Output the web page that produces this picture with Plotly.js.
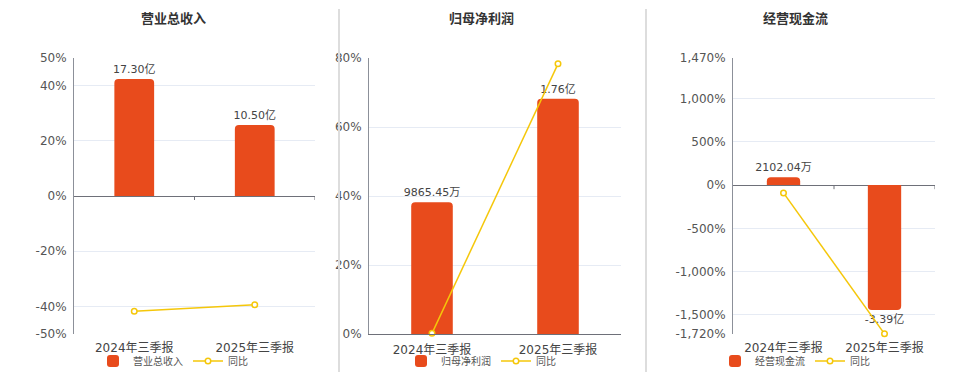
<!DOCTYPE html>
<html>
<head>
<meta charset="utf-8">
<script src="https://cdn.plot.ly/plotly-3.0.1.min.js"></script>
<style>
html,body{margin:0;padding:0;background:#fff;}
#chart{width:960px;height:372px;}
</style>
</head>
<body>
<div id="chart"></div>
<script>
// ---- data ----
const categories = ['2024年三季报', '2025年三季报'];

const revenue = [17.30, 10.50];              // 亿
const revenueLabels = ['17.30亿', '10.50亿'];
const revenueYoY = [-41.8, -39.4];           // %

const profit = [0.986545, 1.76];             // 亿
const profitLabels = ['9865.45万', '1.76亿'];
const profitYoY = [0.2, 78.3];

const cashflow = [0.210204, -3.39];          // 亿
const cashflowLabels = ['2102.04万', '-3.39亿'];
const cashflowYoY = [-89, -1718];

const titles = ['营业总收入', '归母净利润', '经营现金流'];
const yoyName = '同比';

const pctTicks1 = [-50, -40, -20, 0, 20, 40, 50];
const pctText1 = ['-50%', '-40%', '-20%', '0%', '20%', '40%', '50%'];
const pctTicks2 = [0, 20, 40, 60, 80];
const pctText2 = ['0%', '20%', '40%', '60%', '80%'];
const pctTicks3 = [-1720, -1500, -1000, -500, 0, 500, 1000, 1470];
const pctText3 = ['-1,720%', '-1,500%', '-1,000%', '-500%', '0%', '500%', '1,000%', '1,470%'];

// ---- styling ----
const BAR = '#E84B1C';
const LINE = '#F5C70A';
const FONT = '"DejaVu Sans", "Noto Sans CJK SC", sans-serif';
const W = 960, H = 372;
const yDom = [1 - 334 / H, 1 - 58 / H];

const panels = [
  { bars: revenue, labels: revenueLabels, yoy: revenueYoY, ticks: pctTicks1, ttext: pctText1,
    pctRange: [-50, 50], barRange: [-20.41, 20.41], xdom: [74, 315], center: 173, bottomLine: false },
  { bars: profit, labels: profitLabels, yoy: profitYoY, ticks: pctTicks2, ttext: pctText2,
    pctRange: [0, 80], barRange: [0, 2.065], xdom: [369, 621], center: 481, bottomLine: true },
  { bars: cashflow, labels: cashflowLabels, yoy: cashflowYoY, ticks: pctTicks3, ttext: pctText3,
    pctRange: [-1720, 1470], barRange: [-4.04, 3.44], xdom: [733, 935], center: 795, bottomLine: false }
];

const data = [];
const layout = {
  width: W, height: H, autosize: false,
  margin: { l: 0, r: 0, t: 0, b: 0, autoexpand: false },
  paper_bgcolor: '#fff', plot_bgcolor: 'rgba(0,0,0,0)',
  font: { family: FONT, color: '#444', size: 12 },
  showlegend: true,
  hovermode: false,
  annotations: [],
  shapes: []
};

panels.forEach((p, i) => {
  const n = i + 1;
  const xa = n === 1 ? 'x' : 'x' + n;
  const ya = n === 1 ? 'y' : 'y' + n;      // bar axis (hidden)
  const yp = 'y' + (n + 3);                  // percentage axis (visible)
  const leg = n === 1 ? 'legend' : 'legend' + n;

  data.push({
    type: 'bar', x: categories, y: p.bars, name: titles[i],
    xaxis: xa, yaxis: ya, legend: leg,
    width: 0.33,
    marker: { color: BAR, cornerradius: 4 },
    text: p.labels, textposition: 'outside', cliponaxis: false, constraintext: 'none',
    textfont: { size: 11, color: '#444', family: FONT },
    hoverinfo: 'skip'
  });
  data.push({
    type: 'scatter', mode: 'lines+markers', x: categories, y: p.yoy, name: yoyName,
    xaxis: xa, yaxis: yp, legend: leg,
    line: { color: LINE, width: 1.5 },
    marker: { symbol: 'circle', size: 5.5, color: '#fff', line: { color: LINE, width: 1.5 } },
    cliponaxis: false,
    hoverinfo: 'skip'
  });

  layout['xaxis' + (n === 1 ? '' : n)] = {
    domain: [p.xdom[0] / W, p.xdom[1] / W], anchor: ya, type: 'category',
    range: [-0.5, 1.5], showgrid: false, zeroline: false,
    showline: p.bottomLine, linecolor: '#6E7079', linewidth: 1,
    ticks: '', ticklabelstandoff: 5, automargin: false,
    tickfont: { size: 12, color: '#444', family: FONT }, fixedrange: true
  };
  layout['yaxis' + (n === 1 ? '' : n)] = {
    domain: yDom, anchor: xa, range: p.barRange, visible: false, fixedrange: true
  };
  layout['yaxis' + (n + 3)] = {
    domain: yDom, anchor: xa, overlaying: ya, side: 'left',
    range: p.pctRange, tickmode: 'array', tickvals: p.ticks, ticktext: p.ttext,
    showgrid: true, gridcolor: '#E6EBF4', gridwidth: 1,
    zeroline: !p.bottomLine, zerolinecolor: '#6E7079', zerolinewidth: 1,
    showline: true, linecolor: '#8C9099', linewidth: 1,
    ticks: '', ticklabelstandoff: 4, automargin: false,
    tickfont: { size: 12, color: '#555', family: FONT }, fixedrange: true
  };

  layout[leg] = {
    orientation: 'h', x: p.center / W, xanchor: 'center', y: 1 - 361 / H, yanchor: 'middle',
    font: { size: 10, color: '#555', family: FONT },
    bgcolor: 'rgba(0,0,0,0)', borderwidth: 0, itemwidth: 30,
    itemclick: false, itemdoubleclick: false
  };

  layout.annotations.push({
    xref: 'paper', yref: 'paper', x: p.center / W, y: 1 - 19 / H,
    xanchor: 'center', yanchor: 'middle', showarrow: false,
    text: '<b>' + titles[i] + '</b>',
    font: { size: 13, color: '#333', family: FONT }
  });

  // small axis ticks on the category axis line (at zero)
  [0.5, 1.5].forEach(xv => {
    layout.shapes.push({
      type: 'line', xref: xa, yref: yp, x0: xv, x1: xv,
      ysizemode: 'pixel', yanchor: 0, y0: 0, y1: -4,
      line: { color: '#6E7079', width: 1 }
    });
  });
});

// panel separators
[339, 646].forEach(px => {
  layout.shapes.push({
    type: 'line', xref: 'paper', yref: 'paper', x0: px / W, x1: px / W,
    y0: 0, y1: 1 - 9 / H, line: { color: '#DDDDDD', width: 2 }
  });
});

Plotly.newPlot('chart', data, layout, { displayModeBar: false, staticPlot: true });
</script>
</body>
</html>
